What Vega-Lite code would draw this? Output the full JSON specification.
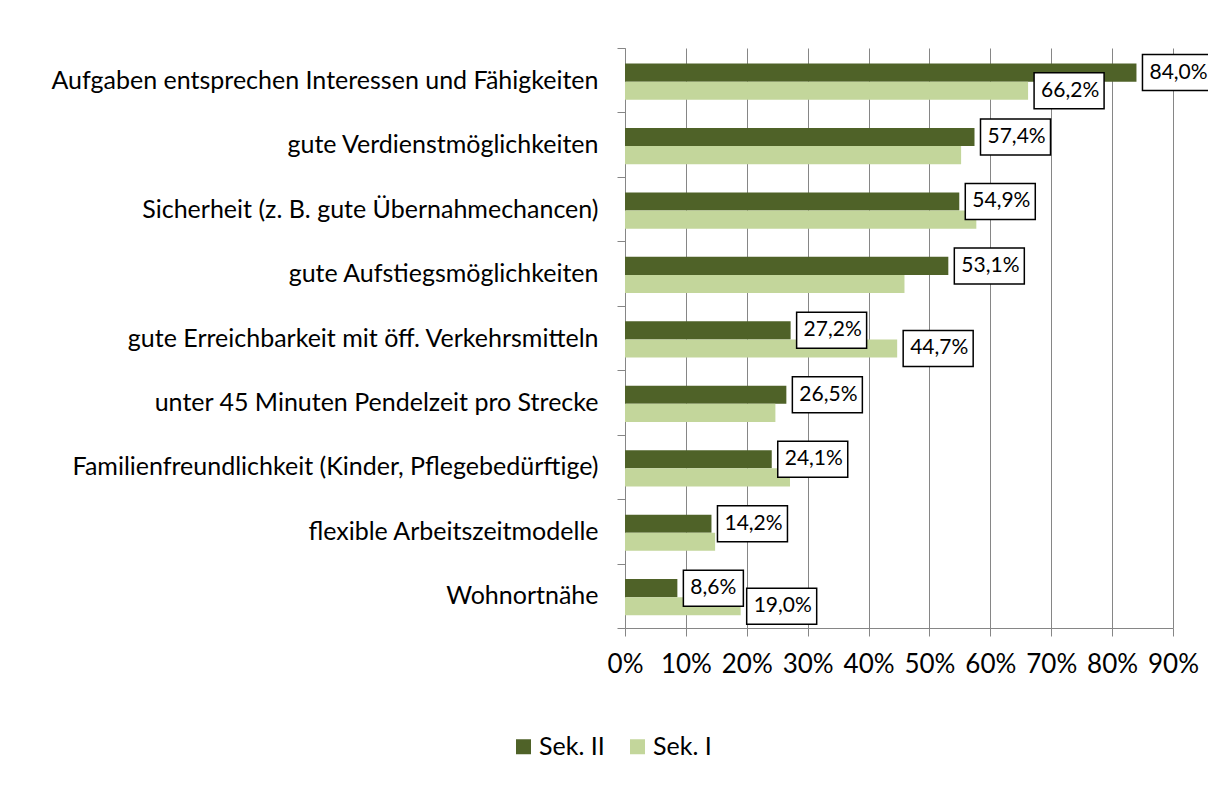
{
  "$schema": "https://vega.github.io/schema/vega-lite/v6.json",
  "autosize": {"type": "none"},
  "padding": {"left": 625, "top": 48, "right": 35, "bottom": 175},
  "width": 548,
  "height": 580,
  "background": "white",
  "config": {
    "locale": {"number": {"decimal": ",", "thousands": ".", "grouping": [3], "currency": ["", " €"]}},
    "view": {"stroke": null},
    "font": "Lato"
  },
  "data": {"values": [
    {"item": "Aufgaben entsprechen Interessen und Fähigkeiten", "series": "Sek. II", "value": 0.840, "label": true},
    {"item": "Aufgaben entsprechen Interessen und Fähigkeiten", "series": "Sek. I", "value": 0.662, "label": true},
    {"item": "gute Verdienstmöglichkeiten", "series": "Sek. II", "value": 0.574, "label": true},
    {"item": "gute Verdienstmöglichkeiten", "series": "Sek. I", "value": 0.552, "label": false},
    {"item": "Sicherheit (z. B. gute Übernahmechancen)", "series": "Sek. II", "value": 0.549, "label": true},
    {"item": "Sicherheit (z. B. gute Übernahmechancen)", "series": "Sek. I", "value": 0.577, "label": false},
    {"item": "gute Aufstiegsmöglichkeiten", "series": "Sek. II", "value": 0.531, "label": true},
    {"item": "gute Aufstiegsmöglichkeiten", "series": "Sek. I", "value": 0.459, "label": false},
    {"item": "gute Erreichbarkeit mit öff. Verkehrsmitteln", "series": "Sek. II", "value": 0.272, "label": true},
    {"item": "gute Erreichbarkeit mit öff. Verkehrsmitteln", "series": "Sek. I", "value": 0.447, "label": true},
    {"item": "unter 45 Minuten Pendelzeit pro Strecke", "series": "Sek. II", "value": 0.265, "label": true},
    {"item": "unter 45 Minuten Pendelzeit pro Strecke", "series": "Sek. I", "value": 0.247, "label": false},
    {"item": "Familienfreundlichkeit (Kinder, Pflegebedürftige)", "series": "Sek. II", "value": 0.241, "label": true},
    {"item": "Familienfreundlichkeit (Kinder, Pflegebedürftige)", "series": "Sek. I", "value": 0.271, "label": false},
    {"item": "flexible Arbeitszeitmodelle", "series": "Sek. II", "value": 0.142, "label": true},
    {"item": "flexible Arbeitszeitmodelle", "series": "Sek. I", "value": 0.148, "label": false},
    {"item": "Wohnortnähe", "series": "Sek. II", "value": 0.086, "label": true},
    {"item": "Wohnortnähe", "series": "Sek. I", "value": 0.190, "label": true}
  ]},
  "encoding": {
    "y": {
      "field": "item", "type": "nominal", "sort": null,
      "scale": {"paddingInner": 0, "paddingOuter": 0},
      "axis": {
        "title": null, "grid": false, "tickBand": "extent",
        "domainColor": "#868686", "tickColor": "#868686", "tickSize": 8,
        "labelFontSize": 25, "labelColor": "black", "labelPadding": 19, "labelLimit": 0
      }
    },
    "yOffset": {
      "field": "series", "type": "nominal", "sort": ["Sek. II", "Sek. I"],
      "scale": {"paddingInner": 0, "paddingOuter": 0.78, "align": 0.55}
    },
    "x": {
      "field": "value", "type": "quantitative",
      "scale": {"domain": [0, 0.9], "nice": false},
      "axis": {
        "title": null, "values": [0, 0.1, 0.2, 0.3, 0.4, 0.5, 0.6, 0.7, 0.8, 0.9],
        "format": ".0%", "grid": true, "gridColor": "#868686",
        "domainColor": "#868686", "tickColor": "#868686", "tickSize": 8,
        "labelFontSize": 26, "labelColor": "black", "labelPadding": 15,
        "labelFlush": false, "labelOverlap": false
      }
    }
  },
  "layer": [
    {
      "mark": {"type": "bar"},
      "encoding": {
        "color": {
          "field": "series", "type": "nominal",
          "scale": {"domain": ["Sek. II", "Sek. I"], "range": ["#4F6228", "#C3D69B"]},
          "legend": {
            "title": null, "orient": "none", "legendX": -114, "legendY": 686,
            "direction": "horizontal", "symbolType": "square", "symbolSize": 225,
            "symbolStrokeWidth": 0, "labelFontSize": 25, "labelColor": "black",
            "labelOffset": 3, "columnPadding": 20
          }
        }
      }
    },
    {
      "transform": [{"filter": "datum.label && datum.value >= 0.1"}],
      "mark": {"type": "rect", "width": 70, "height": 36, "xOffset": 41, "fill": "white", "stroke": "black", "strokeWidth": 1.5}
    },
    {
      "transform": [{"filter": "datum.label && datum.value < 0.1"}],
      "mark": {"type": "rect", "width": 60, "height": 36, "xOffset": 36, "fill": "white", "stroke": "black", "strokeWidth": 1.5}
    },
    {
      "transform": [{"filter": "datum.label"}],
      "mark": {"type": "text", "align": "left", "baseline": "middle", "dx": 13, "fontSize": 21, "color": "black"},
      "encoding": {"text": {"field": "value", "type": "quantitative", "format": ".1%"}}
    }
  ]
}
